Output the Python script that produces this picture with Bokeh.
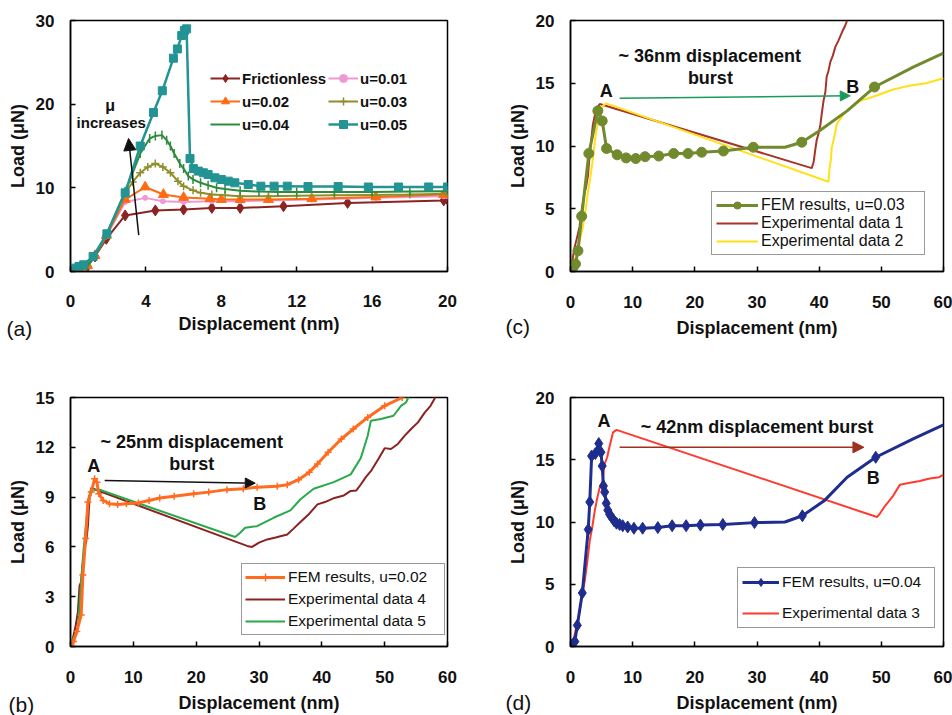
from bokeh.plotting import figure
from bokeh.models import (Range1d, FixedTicker, Legend, LegendItem, Label, Arrow,
                          NormalHead)
from bokeh.layouts import column, row
from bokeh.embed import file_html
from bokeh.resources import INLINE

FONT = "Liberation Sans"

# ---------------- panel (a) data ----------------
fric_x = [0, 0.3, 0.6, 0.9, 1.3, 1.9, 2.9, 4.5, 6.0, 7.5, 9.0, 11.3, 14.7, 19.8, 20]
fric_y = [0, 0.1, 0.3, 0.6, 1.8, 3.9, 6.7, 7.3, 7.4, 7.6, 7.6, 7.8, 8.2, 8.5, 8.6]
u01_x = [0, 0.3, 0.6, 0.9, 1.3, 1.9, 2.9, 3.96, 4.9, 6.0, 7.5, 9.0, 10.5, 12.8, 16.2, 19.8, 20]
u01_y = [0, 0.1, 0.3, 0.7, 1.9, 4.2, 8.3, 8.8, 8.4, 8.3, 8.4, 8.4, 8.5, 8.6, 8.8, 9.0, 9.0]
u02_x = [0, 0.3, 0.6, 0.9, 1.3, 1.9, 2.9, 3.96, 4.93, 6.0, 7.4, 8.0, 9.0, 10.5, 12.8, 16.2, 19.8]
u02_y = [0, 0.1, 0.3, 0.7, 1.9, 4.3, 8.6, 10.1, 9.2, 8.85, 8.7, 8.6, 8.6, 8.6, 8.7, 8.9, 9.2]
u03_x = [0, 0.3, 0.6, 0.9, 1.3, 1.9, 2.9, 3.3, 3.7, 4.1, 4.5, 4.9, 5.3, 5.7, 6.0, 6.5, 6.9, 7.5,
         8.2, 9.0, 10.5, 12, 14, 16, 18, 20]
u03_y = [0, 0.1, 0.3, 0.7, 1.9, 4.3, 9.4, 10.7, 11.8, 12.5, 12.9, 12.5, 11.8, 10.8, 10.2, 9.7, 9.4,
         9.2, 9.1, 9.0, 9.0, 9.05, 9.1, 9.15, 9.2, 9.3]
u04_x = [0, 0.3, 0.6, 0.9, 1.3, 1.9, 2.9, 3.3, 3.7, 4.2, 4.5, 4.85, 5.1, 5.3, 5.5, 5.8, 6.0, 6.25,
         6.5, 6.9, 7.3, 7.75, 8.2, 9.0, 10, 11, 12, 14, 16, 18, 20]
u04_y = [0, 0.1, 0.3, 0.7, 1.9, 4.4, 9.6, 11.8, 14.1, 15.9, 16.2, 16.3, 15.7, 15.0, 14.1, 12.9, 12.3,
         11.4, 11.0, 10.6, 10.3, 10.0, 9.85, 9.65, 9.55, 9.5, 9.5, 9.5, 9.5, 9.55, 9.6]
u05_x = [0, 0.17, 0.45, 0.7, 1.2, 1.93, 2.9, 3.7, 4.4, 4.87, 5.46, 5.67, 5.9, 6.04, 6.16, 6.34,
         6.52, 6.78, 7.05, 7.3, 7.66, 8.0, 8.37, 8.72, 9.43, 10.1, 10.8, 11.5, 12.6, 14.2, 15.8,
         17.4, 19.0, 20]
u05_y = [0, 0.4, 0.6, 0.8, 1.8, 4.5, 9.4, 15.0, 19.0, 21.6, 25.5, 26.6, 28.2, 28.8, 29.0, 13.5,
         12.3, 12.0, 11.8, 11.6, 11.2, 11.0, 10.8, 10.6, 10.4, 10.2, 10.2, 10.2, 10.15, 10.15, 10.1,
         10.1, 10.1, 10.1]

# ---------------- panel (c) data ----------------
fem_c_x = [0, 0.4, 0.8, 1.2, 1.8, 2.95, 4.4, 5.1, 5.8, 7.5, 8.95, 10.5, 12.0, 14.2, 16.6, 18.9,
           21.1, 24.6, 29.4, 34.5, 37.2, 40.0, 44.5, 48.9, 55.2, 60]
fem_c_y = [0, 0.3, 0.6, 1.65, 4.4, 9.4, 12.8, 12.0, 9.8, 9.3, 9.05, 9.0, 9.15, 9.2, 9.4, 9.4,
           9.5, 9.6, 9.9, 9.9, 10.3, 11.2, 12.8, 14.7, 16.3, 17.4]
fem_c_marker = [1, 1, 1, 1, 1, 1, 1, 1, 1, 1, 1, 1, 1, 1, 1, 1, 1, 1, 1, 0, 1, 0, 0, 1, 0, 0]
exp1_x = [0, 0.3, 0.65, 1.0, 1.45, 1.8, 2.26, 2.5, 2.8, 3.0, 3.3, 3.6, 4.1, 4.7, 38.8, 39.1, 39.4,
          39.6, 39.9, 40.2, 40.4, 40.7, 41.0, 41.2, 41.5, 41.8, 42.2, 42.6, 43.1, 43.7, 44.1, 44.5]
exp1_y = [0, 0.9, 1.9, 2.6, 3.55, 4.9, 6.3, 6.7, 7.6, 8.8, 10.3, 11.7, 12.9, 13.35, 8.24, 8.7, 9.8,
          10.46, 11.0, 11.7, 12.5, 13.6, 14.3, 15.5, 16.0, 16.7, 17.2, 17.9, 18.4, 19.1, 19.5, 20.0]
exp2_x = [0, 0.5, 1.0, 1.5, 2.0, 2.4, 2.8, 3.2, 3.6, 4.1, 4.7, 5.2, 5.76, 41.5, 41.65, 41.9, 42.0,
          42.5, 42.8, 43.1, 43.9, 45.0, 46.6, 48.2, 49.7, 51.9, 54.5, 57.2, 60]
exp2_y = [0, 0.6, 1.4, 2.5, 3.55, 4.8, 6.3, 7.5, 9.0, 11.1, 12.2, 13.2, 13.4, 7.15, 8.15, 8.96, 9.8,
          10.85, 11.7, 11.95, 12.5, 13.05, 13.6, 13.85, 14.1, 14.5, 14.8, 15.0, 15.4]

# ---------------- panel (b) data ----------------
fem_b_x = [0, 0.5, 1.0, 1.7, 1.97, 2.4, 2.77, 3.3, 3.84, 4.2, 4.5, 5.2, 6.2, 7.5, 8.9, 10.8, 12.5,
           14.2, 16.5, 19.6, 22.0, 24.9, 27.5, 29.7, 32.9, 34.5, 36.3, 38.0, 39.3, 41.0, 43.1, 45.0,
           47.3, 50.0, 52.8]
fem_b_y = [0, 0.3, 0.9, 1.9, 4.3, 6.5, 8.7, 9.3, 10.1, 9.9, 9.2, 8.8, 8.6, 8.55, 8.6, 8.65, 8.8,
           8.95, 9.05, 9.2, 9.3, 9.45, 9.5, 9.6, 9.65, 9.75, 10.05, 10.5, 11.0, 11.7, 12.5, 13.1,
           13.8, 14.5, 15.0]
exp4_x = [0.1, 0.37, 0.8, 1.17, 1.44, 1.7, 1.97, 2.24, 2.5, 2.77, 3.04, 3.3, 3.6, 28.1, 28.9, 30.0,
          31.3, 32.5, 34.5, 35.5, 36.6, 38.0, 39.3, 40.5, 42.0, 43.5, 44.6, 45.5, 46.2, 47.0, 47.8,
          49.0, 50.0, 51.0, 52.1, 53.2, 54.2, 55.3, 56.4, 57.3, 58.2]
exp4_y = [0.1, 0.48, 1.2, 2.07, 3.66, 3.9, 5.06, 5.96, 6.3, 7.25, 9.04, 9.55, 9.5, 6.06, 6.0, 6.26,
          6.45, 6.55, 6.75, 7.1, 7.5, 8.0, 8.56, 8.7, 8.95, 9.1, 9.37, 9.4, 9.76, 10.2, 10.56,
          11.3, 11.95, 11.9, 12.2, 12.7, 13.1, 13.5, 14.1, 14.5, 15.1]
exp5_x = [0, 0.6, 1.17, 1.44, 1.71, 2.08, 2.5, 2.93, 3.3, 4.64, 26.2, 27.0, 27.8, 29.7, 32.4, 35.0,
          36.6, 38.7, 41.9, 44.6, 46.2, 47.3, 47.8, 49.4, 51.4, 52.6, 53.4, 54.0]
exp5_y = [0.2, 0.6, 1.08, 2.47, 4.06, 5.86, 7.45, 9.04, 9.44, 9.44, 6.6, 6.85, 7.15, 7.25, 7.77, 8.2,
          8.87, 9.5, 9.9, 10.37, 11.35, 12.7, 13.6, 13.7, 13.9, 14.5, 14.7, 15.2]

# ---------------- panel (d) data ----------------
fem_d_x = [0, 0.16, 0.7, 1.1, 1.9, 2.85, 3.1, 3.4, 4.0, 4.55, 4.9, 5.1, 5.3, 5.5, 5.75, 6.0, 6.3,
           6.6, 7.0, 7.4, 7.9, 8.4, 9.2, 10.2, 11.6, 14.05, 16.35, 18.6, 20.9, 24.5, 29.6, 34.5,
           37.3, 40.8, 44.5, 49.1, 55.2, 60]
fem_d_y = [0, 0.1, 0.4, 1.7, 4.3, 9.4, 11.6, 15.3, 15.5, 16.3, 15.6, 14.5, 12.9, 12.4, 11.5, 10.95,
           10.6, 10.4, 10.1, 9.9, 9.8, 9.7, 9.6, 9.5, 9.5, 9.55, 9.7, 9.7, 9.75, 9.8, 9.95, 10.0,
           10.5, 11.7, 13.6, 15.2, 16.7, 17.8]
fem_d_marker = [1] * 31 + [0, 1, 0, 0, 1, 0, 0]
exp3_x = [0, 0.6, 1.2, 1.7, 2.3, 2.7, 3.1, 3.5, 3.9, 4.3, 4.7, 5.2, 5.45, 5.9, 6.3, 6.85, 7.4,
          49.3, 49.8, 50.6, 51.1, 51.9, 52.5, 53.0, 54.6, 56.2, 57.8, 59.3, 60]
exp3_y = [0, 0.8, 2.1, 3.6, 5.3, 6.8, 8.5, 9.6, 10.9, 11.9, 12.8, 13.3, 14.6, 15.2, 16.1, 17.2,
          17.4, 10.4, 10.7, 11.3, 11.6, 12.1, 12.6, 13.0, 13.15, 13.3, 13.5, 13.6, 13.8]


def make_fig(w, h, bl, br, bt, bb, xr, yr, xt, yt, xstand=24, xlstand=7):
    p = figure(width=w, height=h, output_backend="svg", toolbar_location=None,
               x_range=Range1d(*xr), y_range=Range1d(*yr),
               min_border_left=bl, min_border_right=br, min_border_top=bt,
               min_border_bottom=bb, background_fill_color="white",
               border_fill_color="white")
    p.grid.visible = False
    p.outline_line_color = "black"
    p.outline_line_width = 1.5
    p.xaxis.ticker = FixedTicker(ticks=xt)
    p.yaxis.ticker = FixedTicker(ticks=yt)
    p.xaxis.axis_label = "Displacement (nm)"
    p.yaxis.axis_label = "Load (\u03bcN)"
    for ax in p.axis:
        ax.major_tick_in = 5
        ax.major_tick_out = 0
        ax.minor_tick_line_color = None
        ax.axis_line_color = "black"
        ax.axis_line_width = 1.5
        ax.major_tick_line_color = "black"
        ax.major_tick_line_width = 1.5
        ax.major_label_text_font = FONT
        ax.major_label_text_font_style = "bold"
        ax.major_label_text_font_size = "17px"
        ax.major_label_text_color = "#111111"
        ax.axis_label_text_font = FONT
        ax.axis_label_text_font_style = "bold"
        ax.axis_label_text_font_size = "18px"
        ax.axis_label_text_color = "#111111"
    p.xaxis.major_label_standoff = xstand
    p.yaxis.major_label_standoff = 16
    p.xaxis.axis_label_standoff = xlstand
    p.yaxis.axis_label_standoff = 5
    return p


def txt(p, x, y, t, size="18px", style="bold", color="#111111"):
    p.add_layout(Label(x=x, y=y, text=t, text_align="center", text_baseline="middle",
                       text_font=FONT, text_font_style=style, text_font_size=size,
                       text_color=color))


def panel_tag(p, x, y, t, side):
    # placed in a side panel (not clipped to the frame), positioned in canvas pixels
    p.add_layout(Label(x=x, y=y, x_units="canvas", y_units="canvas", text=t,
                       text_align="left", text_baseline="middle", text_font=FONT,
                       text_font_size="21px", text_color="#111111"), side)


def arrow(p, x0, y0, x1, y1, c, size=11):
    p.add_layout(Arrow(end=NormalHead(size=size, fill_color=c, line_color=c),
                       x_start=x0, y_start=y0, x_end=x1, y_end=y1,
                       line_color=c, line_width=1.5))


def legend(p, items, loc, fs, style, glyph_w, pad, row_h, spacing, label_w, border=True,
           standoff=3):
    lg = Legend(items=items, location=loc, orientation="vertical",
                label_text_font=FONT, label_text_font_size=fs,
                label_text_font_style=style, label_text_color="#111111",
                glyph_width=glyph_w, glyph_height=row_h, label_height=row_h,
                label_width=label_w, spacing=spacing, padding=pad, margin=0,
                label_standoff=standoff,
                border_line_color="#333333" if border else None, border_line_width=1.5,
                background_fill_color="white", background_fill_alpha=1.0 if border else 0.0)
    p.add_layout(lg)


# ================= (a) =================
pa = make_fig(476, 345, 70, 29, 20, 74, (0, 20), (0, 30), [0, 4, 8, 12, 16, 20], [0, 10, 20, 30],
              xstand=23, xlstand=4)
c_fr, c_01, c_02, c_03, c_04, c_05 = "#8B2323", "#EE99D6", "#FF6A13", "#8E8E2B", "#2E8B3A", "#239393"
l_fr = pa.line(fric_x, fric_y, line_color=c_fr, line_width=2)
m_fr = pa.scatter(fric_x, fric_y, marker="diamond", size=11, color=c_fr)
l_01 = pa.line(u01_x, u01_y, line_color=c_01, line_width=2)
m_01 = pa.scatter(u01_x, u01_y, marker="circle", size=5, color=c_01)
l_02 = pa.line(u02_x, u02_y, line_color=c_02, line_width=2)
m_02 = pa.scatter(u02_x, u02_y, marker="triangle", size=10, color=c_02)
l_03 = pa.line(u03_x, u03_y, line_color=c_03, line_width=2)
m_03 = pa.scatter(u03_x, u03_y, marker="cross", size=8, line_color=c_03, line_width=1.5)
l_04 = pa.line(u04_x, u04_y, line_color=c_04, line_width=2)
m_04 = pa.scatter(u04_x, u04_y, marker="dash", angle=1.5708, size=9, line_color=c_04, line_width=1.5)
l_05 = pa.line(u05_x, u05_y, line_color=c_05, line_width=2.5)
m_05 = pa.scatter(u05_x, u05_y, marker="square", size=8, color=c_05)
legend(pa, [LegendItem(label="Frictionless", renderers=[l_fr, m_fr]),
            LegendItem(label="u=0.02", renderers=[l_02, m_02]),
            LegendItem(label="u=0.04", renderers=[l_04])],
       (140, 137), "15px", "bold", 30, 0, 20, 3, 60, border=False, standoff=2)
legend(pa, [LegendItem(label="u=0.01", renderers=[l_01, m_01]),
            LegendItem(label="u=0.03", renderers=[l_03, m_03]),
            LegendItem(label="u=0.05", renderers=[l_05, m_05])],
       (258, 137), "15px", "bold", 30, 0, 20, 3, 60, border=False, standoff=2)
arrow(pa, 3.62, 4.35, 3.08, 15.9, "#111111", size=12)
txt(pa, 2.1, 19.9, "\u03bc", size="16px")
txt(pa, 2.16, 17.85, "increases", size="15px")
panel_tag(pa, 6, 328, "(a)", "right")

# ================= (c) =================
pc = make_fig(476, 345, 94, 9, 20, 74, (0, 60), (0, 20), [0, 10, 20, 30, 40, 50, 60], [0, 5, 10, 15, 20])
c_femc, c_e1, c_e2 = "#728A2E", "#A5352A", "#FFE01A"
l_e1 = pc.line(exp1_x, exp1_y, line_color=c_e1, line_width=2)
l_e2 = pc.line(exp2_x, exp2_y, line_color=c_e2, line_width=2)
l_fc = pc.line(fem_c_x, fem_c_y, line_color=c_femc, line_width=3)
mcx = [x for x, k in zip(fem_c_x, fem_c_marker) if k]
mcy = [y for y, k in zip(fem_c_y, fem_c_marker) if k]
m_fc = pc.scatter(mcx, mcy, marker="circle", size=10, color=c_femc)
legend(pc, [LegendItem(label="FEM results, u=0.03", renderers=[l_fc, m_fc]),
            LegendItem(label="Experimental data 1", renderers=[l_e1]),
            LegendItem(label="Experimental data 2", renderers=[l_e2])],
       (141, 16), "16px", "normal", 42, 4, 18, 0, 159)
arrow(pc, 7.9, 13.8, 45.0, 14.0, "#1A9A5A", size=10)
txt(pc, 22.4, 17.15, "~ 36nm displacement")
txt(pc, 22.5, 15.4, "burst")
txt(pc, 5.76, 14.4, "A")
txt(pc, 45.4, 14.7, "B")
panel_tag(pc, 29, 326, "(c)", "left")

# ================= (b) =================
pb = make_fig(476, 370, 70, 29, 52, 69, (0, 60), (0, 15), [0, 10, 20, 30, 40, 50, 60], [0, 3, 6, 9, 12, 15],
              xstand=24, xlstand=7)
c_femb, c_e4, c_e5 = "#FF6B1F", "#8B2222", "#2BA84A"
l_e4 = pb.line(exp4_x, exp4_y, line_color=c_e4, line_width=2)
l_e5 = pb.line(exp5_x, exp5_y, line_color=c_e5, line_width=2)
l_fb = pb.line(fem_b_x, fem_b_y, line_color=c_femb, line_width=3)
m_fb = pb.scatter(fem_b_x, fem_b_y, marker="cross", size=7, line_color=c_femb, line_width=1.5)
legend(pb, [LegendItem(label="FEM results, u=0.02", renderers=[l_fb, m_fb]),
            LegendItem(label="Experimental data 4", renderers=[l_e4]),
            LegendItem(label="Experimental data 5", renderers=[l_e5])],
       (171, 11), "15.5px", "normal", 40, 3, 20, 2, 153)
arrow(pb, 5.44, 10.0, 29.4, 9.84, "#111111", size=10)
txt(pb, 19.3, 12.33, "~ 25nm displacement")
txt(pb, 19.3, 11.0, "burst")
txt(pb, 3.7, 10.9, "A")
txt(pb, 30.1, 8.6, "B")
panel_tag(pb, 8, 359, "(b)", "right")

# ================= (d) =================
pd_ = make_fig(476, 370, 94, 9, 52, 69, (0, 60), (0, 20), [0, 10, 20, 30, 40, 50, 60], [0, 5, 10, 15, 20],
               xstand=24, xlstand=7)
c_femd, c_e3 = "#1F2D8F", "#FF3A2F"
l_e3 = pd_.line(exp3_x, exp3_y, line_color=c_e3, line_width=2)
l_fd = pd_.line(fem_d_x, fem_d_y, line_color=c_femd, line_width=3)
mdx = [x for x, k in zip(fem_d_x, fem_d_marker) if k]
mdy = [y for y, k in zip(fem_d_y, fem_d_marker) if k]
m_fd = pd_.scatter(mdx, mdy, marker="diamond", size=12, color=c_femd)
legend(pd_, [LegendItem(label="FEM results, u=0.04", renderers=[l_fd, m_fd]),
             LegendItem(label="Experimental data 3", renderers=[l_e3])],
       (167, 18), "15.5px", "normal", 37, 4, 20, 11, 148)
arrow(pd_, 7.9, 16.0, 47.2, 16.0, "#A0301E", size=11)
txt(pd_, 30.0, 17.6, "~ 42nm displacement burst")
txt(pd_, 5.4, 18.1, "A")
txt(pd_, 48.7, 13.5, "B")
panel_tag(pd_, 29, 357, "(d)", "left")

layout = column(row(pa, pc), row(pb, pd_))
open("out.html", "w").write(file_html(layout, INLINE))
